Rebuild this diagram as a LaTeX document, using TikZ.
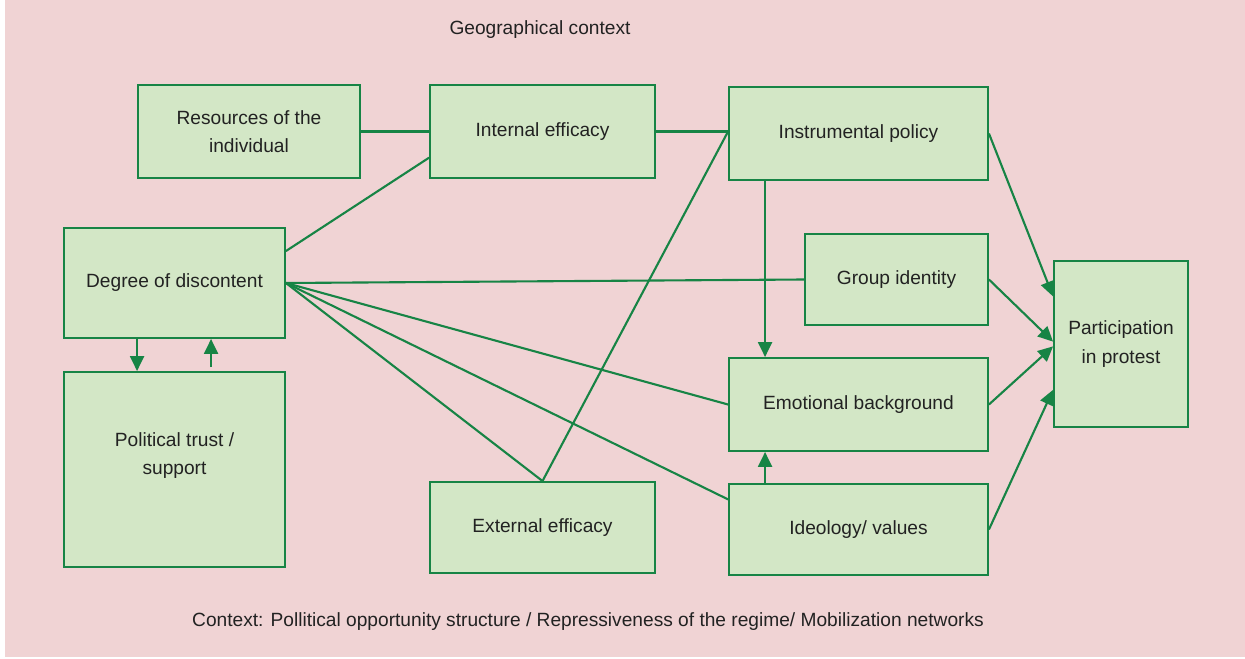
\documentclass[tikz,border=0pt]{standalone}
\usepackage{fontspec}
\setmainfont{Liberation Sans}
\usetikzlibrary{arrows.meta,calc}
\definecolor{bgpink}{HTML}{F0D3D4}
\definecolor{boxfill}{HTML}{D3E7C6}
\definecolor{boxline}{HTML}{178445}
\definecolor{txt}{HTML}{222222}
\begin{document}
\begin{tikzpicture}[x=0.02cm, y=-0.02cm,
    every node/.style={font=\fontsize{10.9}{16}\selectfont, text=txt},
    box/.style={draw=boxline, fill=boxfill, line width=1.1pt, align=center, inner sep=0pt},
    link/.style={draw=boxline, line width=1.2pt},
    arr/.style={link, -{Triangle[length=0.3cm, width=0.28cm]}}]
  \fill[white] (0,0) rectangle (1245,659);
  \useasboundingbox (0,0) rectangle (1245,659);
  \fill[bgpink] (5,0) rectangle (1245,657);

  \node[box, minimum width=4.44cm, minimum height=1.86cm] (res) at (249,131.5) {Resources of the\\individual};
  \node[box, minimum width=4.5cm, minimum height=1.86cm] (intern) at (542.5,131.5) {Internal efficacy};
  \node[box, minimum width=5.18cm, minimum height=1.86cm] (instr) at (858.5,133.5) {Instrumental policy};
  \node[box, minimum width=4.42cm, minimum height=2.2cm] (disc) at (174.5,283) {Degree of discontent};
  \node[box, minimum width=3.66cm, minimum height=1.82cm] (group) at (896.5,279.5) {Group identity};
  \node[box, minimum width=2.68cm, minimum height=3.32cm] (part) at (1121,344) {Participation\\in protest};
  \node[box, minimum width=5.18cm, minimum height=1.86cm] (emot) at (858.5,404.5) {Emotional background};
  \node[box, minimum width=4.42cm, minimum height=3.9cm,
    label={[name=trusttxt, align=center, yshift=0.28cm]center:{Political trust /\\support}}] (trust) at (174.5,469.5) {};
  \node[box, minimum width=4.5cm, minimum height=1.82cm] (extern) at (542.5,527.5) {External efficacy};
  \node[box, minimum width=5.18cm, minimum height=1.82cm] (ideo) at (858.5,529.5) {Ideology/ values};

  \node (geo) at (540,30) {Geographical context};
  \node (ctx) at (588,622) {Context: Pollitical opportunity structure / Repressiveness of the regime/ Mobilization networks};

  \coordinate (instrin) at (intern.east -| instr.west);
  \draw[link] (res.east) -- (intern.west);
  \draw[link] (intern.east) -- (instrin);
  \draw[link] (disc.16) -- (intern.193);
  \draw[link] (disc.east) -- (group.west);
  \draw[link] (disc.east) -- (emot.west);
  \draw[link] (disc.east) -- (ideo.167);
  \draw[link] (disc.east) -- (extern.north) -- (instrin);

  \draw[arr] ($(instr.south west)+(37,0)$) -- ($(emot.north west)+(37,0)$);
  \draw[arr] ($(ideo.north west)+(37,0)$) -- ($(emot.south west)+(37,0)$);
  \draw[arr] ($(disc.south west)+(74,0)$) -- ($(trust.north west)+(74,0)$);
  \draw[arr] ($(trust.north west)+(148,-4)$) -- ($(disc.south west)+(148,0)$);

  \draw[arr] (instr.east) -- (part.145);
  \draw[arr] (group.east) -- (part.178);
  \draw[arr] (emot.east) -- (part.182);
  \draw[arr] (ideo.east) -- (part.214);
\end{tikzpicture}
\end{document}
